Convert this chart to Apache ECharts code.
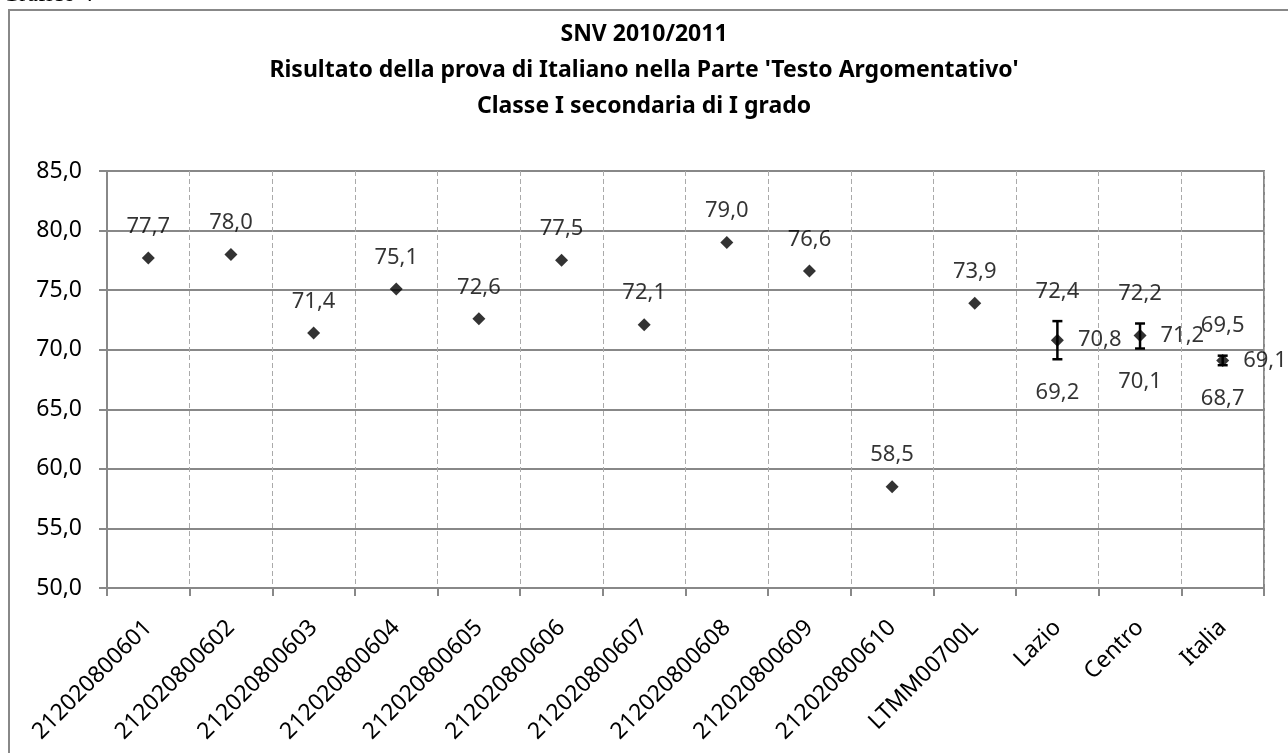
<!DOCTYPE html>
<html>
<head>
<meta charset="utf-8">
<script src="https://cdn.jsdelivr.net/npm/echarts@6/dist/echarts.min.js"></script>
<style>
  html, body { margin: 0; padding: 0; background: #fff; }
  #chart { width: 1288px; height: 753px; }
</style>
</head>
<body>
<div id="chart"></div>
<script>
// categorie e valori
var categorie = ['212020800601', '212020800602', '212020800603', '212020800604', '212020800605',
  '212020800606', '212020800607', '212020800608', '212020800609', '212020800610',
  'LTMM00700L', 'Lazio', 'Centro', 'Italia'];
var medie = [77.7, 78.0, 71.4, 75.1, 72.6, 77.5, 72.1, 79.0, 76.6, 58.5, 73.9, 70.8, 71.2, 69.1];
// intervalli (solo Lazio, Centro, Italia)
var confronto = ['Lazio', 'Centro', 'Italia'];
var limSup = [72.4, 72.2, 69.5];
var limInf = [69.2, 70.1, 68.7];
var yTicks = [50, 55, 60, 65, 70, 75, 80, 85];

var font = '"Noto Sans", "DejaVu Sans", sans-serif';
function virgola(v) { return v.toFixed(1).replace('.', ','); }

var chart = echarts.init(document.getElementById('chart'));

var datiMedie = medie.map(function (v, i) {
  var item = { value: [categorie[i], v] };
  if (confronto.indexOf(categorie[i]) >= 0) {
    item.label = { position: 'right', distance: 14 };
  }
  return item;
});

var option = {
  animation: false,
  textStyle: { fontFamily: font },
  title: {
    text: "SNV 2010/2011\nRisultato della prova di Italiano nella Parte 'Testo Argomentativo'\nClasse I secondaria di I grado",
    left: 'center',
    top: 11,
    textStyle: { fontFamily: font, fontSize: 23, fontWeight: 'bold', color: '#000', lineHeight: 36 }
  },
  graphic: [
    { type: 'rect', shape: { x: 9, y: 10, width: 1400, height: 900 },
      style: { fill: 'none', stroke: '#888', lineWidth: 2 }, silent: true },
    { type: 'text', left: 2, top: -17,
      style: { text: 'Grafico 4', font: '24px "Liberation Serif", serif', fill: '#000' } }
  ],
  grid: { left: 107, right: 24, top: 171, bottom: 165, show: true, borderColor: '#888', borderWidth: 2 },
  xAxis: {
    type: 'category',
    data: categorie,
    boundaryGap: true,
    axisLine: { lineStyle: { color: '#888', width: 2 } },
    axisTick: { show: true, length: 8, lineStyle: { color: '#888', width: 2 } },
    axisLabel: { rotate: 45, margin: 36, fontSize: 23, color: '#000', interval: 0, fontFamily: font },
    splitLine: { show: true, interval: 0, lineStyle: { color: '#aaa', type: [5, 3], width: 1 } }
  },
  yAxis: {
    type: 'value',
    min: yTicks[0],
    max: yTicks[yTicks.length - 1],
    interval: 5,
    axisLine: { show: true, lineStyle: { color: '#888', width: 2 } },
    axisTick: { show: true, length: 8, lineStyle: { color: '#888', width: 2 } },
    axisLabel: { margin: 25, fontSize: 23, color: '#000', fontFamily: font, formatter: virgola },
    splitLine: { show: true, lineStyle: { color: '#888', width: 2 } }
  },
  series: [
    {
      name: 'intervallo',
      type: 'custom',
      z: 3,
      data: confronto.map(function (c, i) { return [c, limInf[i], limSup[i]]; }),
      renderItem: function (params, api) {
        var basso = api.coord([api.value(0), api.value(1)]);
        var alto = api.coord([api.value(0), api.value(2)]);
        var x = basso[0], m = 5;
        var st = { stroke: '#000', lineWidth: 2.5 };
        return {
          type: 'group',
          children: [
            { type: 'line', shape: { x1: x, y1: alto[1], x2: x, y2: basso[1] }, style: st },
            { type: 'line', shape: { x1: x - m, y1: alto[1], x2: x + m, y2: alto[1] }, style: st },
            { type: 'line', shape: { x1: x - m, y1: basso[1], x2: x + m, y2: basso[1] }, style: st }
          ]
        };
      }
    },
    {
      name: 'media',
      type: 'scatter',
      z: 4,
      symbol: 'diamond',
      symbolSize: 13,
      itemStyle: { color: '#000' },
      label: { show: true, position: 'top', distance: 14, fontSize: 22, color: '#000', fontFamily: font,
        formatter: function (p) { return virgola(p.value[1]); } },
      data: datiMedie
    },
    {
      name: 'sup',
      type: 'scatter',
      symbolSize: 1,
      itemStyle: { color: 'rgba(0,0,0,0)' },
      label: { show: true, position: 'top', distance: 18, fontSize: 22, color: '#000', fontFamily: font,
        formatter: function (p) { return virgola(p.value[1]); } },
      data: confronto.map(function (c, i) { return [c, limSup[i]]; })
    },
    {
      name: 'inf',
      type: 'scatter',
      symbolSize: 1,
      itemStyle: { color: 'rgba(0,0,0,0)' },
      label: { show: true, position: 'bottom', distance: 22, fontSize: 22, color: '#000', fontFamily: font,
        formatter: function (p) { return virgola(p.value[1]); } },
      data: confronto.map(function (c, i) { return [c, limInf[i]]; })
    }
  ]
};

chart.setOption(option);
</script>
</body>
</html>
